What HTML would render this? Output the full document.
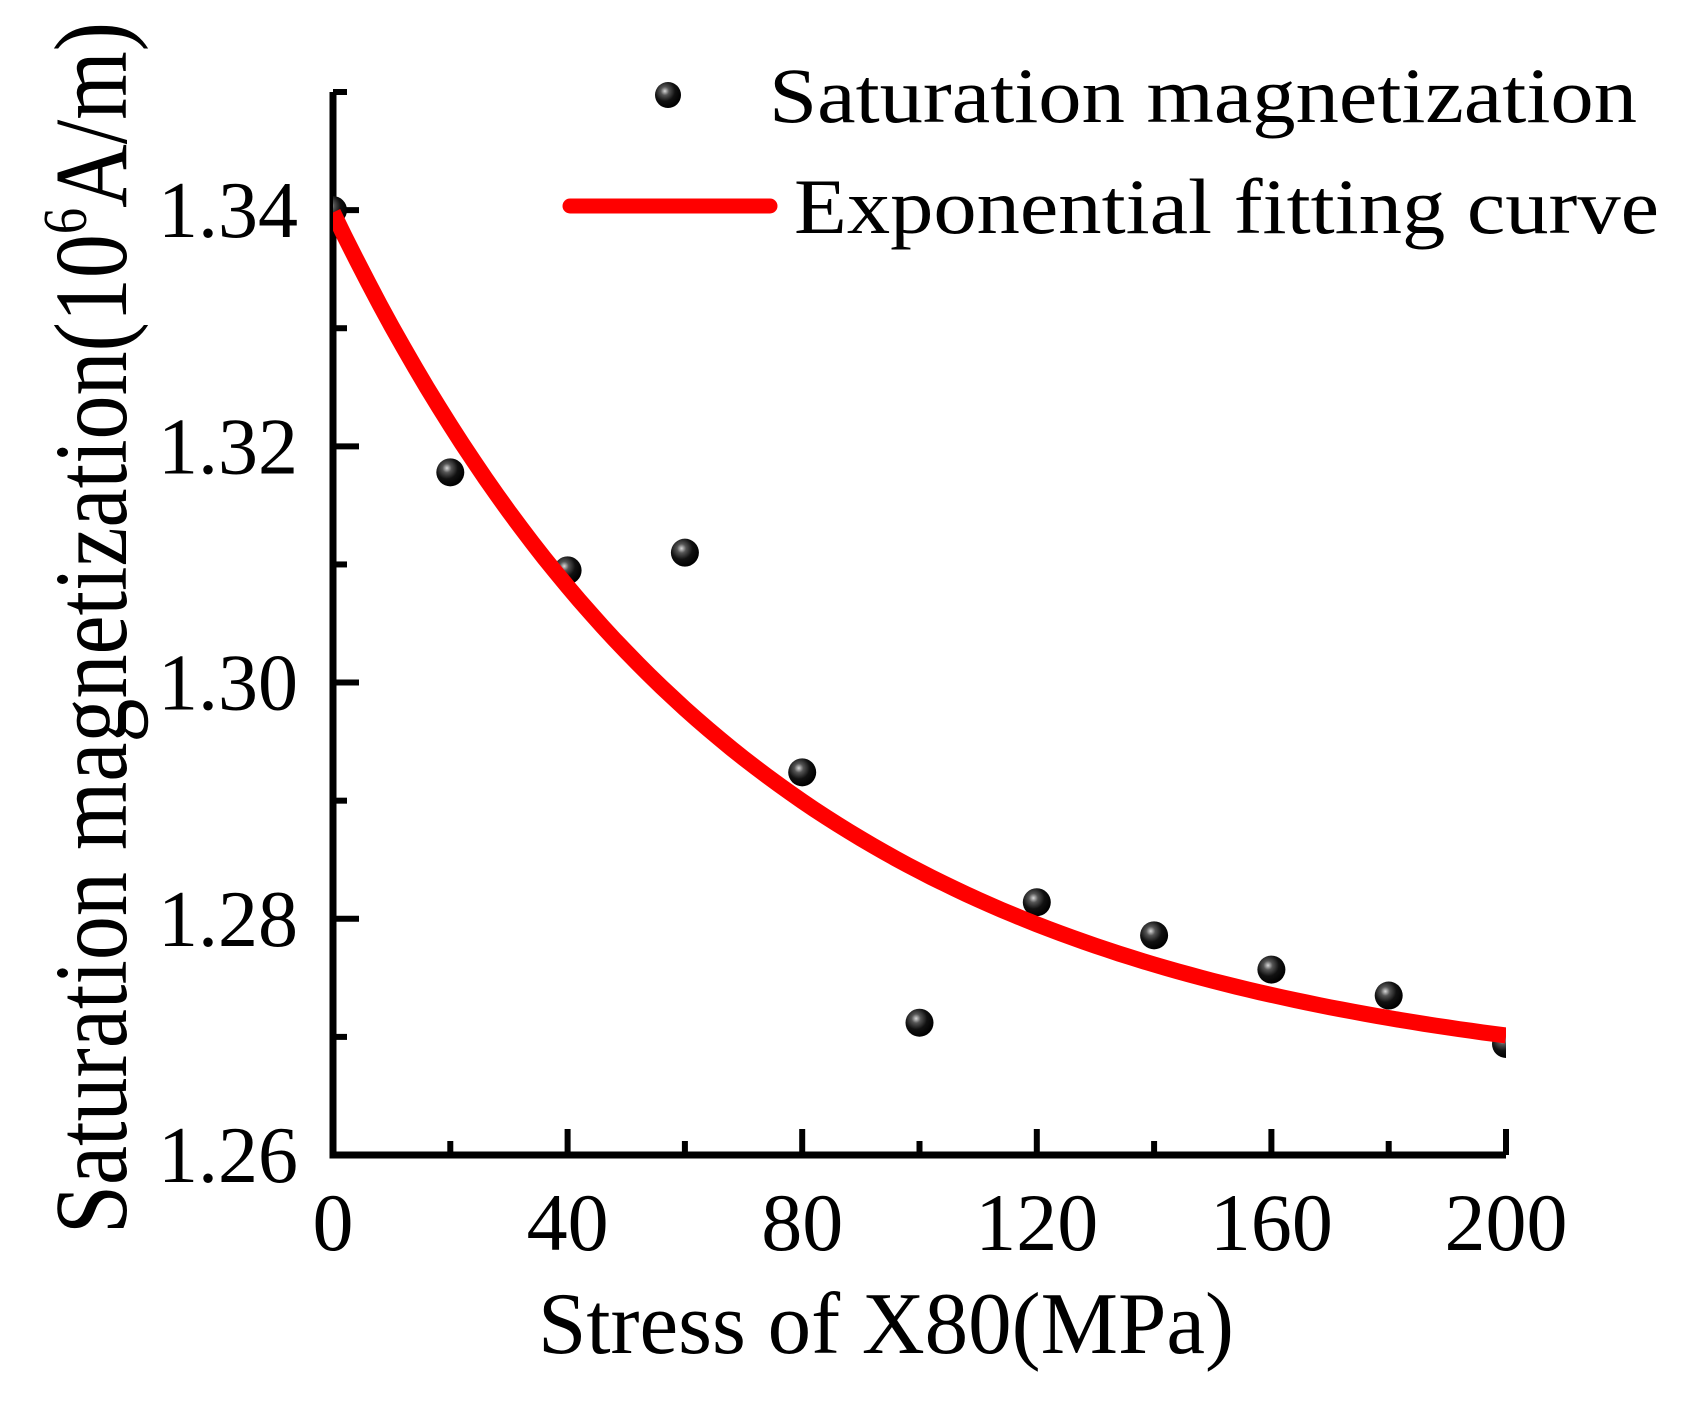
<!DOCTYPE html>
<html><head><meta charset="utf-8"><style>
html,body{margin:0;padding:0;background:#fff;}
svg{display:block;font-family:"Liberation Serif","Times New Roman",serif;}
</style></head><body>
<svg id="chart" width="1689" height="1413" viewBox="0 0 1689 1413">
<defs>
<radialGradient id="ball" cx="0.38" cy="0.35" r="0.65">
<stop offset="0" stop-color="#d8d8d8"/><stop offset="0.25" stop-color="#555"/><stop offset="0.6" stop-color="#111"/><stop offset="1" stop-color="#000"/>
</radialGradient>
<clipPath id="plotclip"><rect x="333" y="60" width="1173" height="1095"/></clipPath>
</defs>
<g id="axes"></g>
<g id="marks" clip-path="url(#plotclip)"></g>
<text x="1234" y="1353" font-size="88" textLength="696" lengthAdjust="spacingAndGlyphs" text-anchor="end">Stress of X80(MPa)</text>
<text transform="translate(126,1234) rotate(-90)" font-size="104" textLength="1212" lengthAdjust="spacingAndGlyphs">Saturation magnetization(10<tspan font-size="62" dy="-40">6</tspan><tspan dy="40">A/m)</tspan></text>
<g>
<circle cx="668" cy="95" r="13" fill="url(#ball)"/>
<text x="769" y="122" font-size="78" textLength="868" lengthAdjust="spacingAndGlyphs">Saturation magnetization</text>
<line x1="570" y1="206" x2="770" y2="206" stroke="#f00" stroke-width="15" stroke-linecap="round"/>
<text x="794" y="233" font-size="78" textLength="865" lengthAdjust="spacingAndGlyphs">Exponential fitting curve</text>
</g>
</svg>
<script>
const stress = [0,20,40,60,80,100,120,140,160,180,200];
const magnetization = [1.3400,1.3178,1.3095,1.3110,1.2924,1.2712,1.2814,1.2786,1.2757,1.2735,1.2694];
const fitParams = [1.2655,0.0743,72]; // y0, A, t
const xTickLabels = ["0","40","80","120","160","200"];
const yTickLabels = ["1.26","1.28","1.30","1.32","1.34"];
const NS="http://www.w3.org/2000/svg";
const X0=333,X1=1506,Y0=1155,Y1=92;
const xMin=0,xMax=200,yMin=1.26,yMax=1.35;
function sx(v){return X0+(v-xMin)/(xMax-xMin)*(X1-X0);}
function sy(v){return Y0-(v-yMin)/(yMax-yMin)*(Y0-Y1);}
function mk(tag,attrs,parent){const e=document.createElementNS(NS,tag);for(const k in attrs)e.setAttribute(k,attrs[k]);parent.appendChild(e);return e;}
const axes=document.getElementById('axes'),marks=document.getElementById('marks');
let a=mk('path',{d:`M${X0},${Y1} V${Y0} H${X1}`,fill:'none',stroke:'#000','stroke-width':7},axes);


for(let v=20;v<=200;v+=20){
  const major=(v%40===0);
  const t=mk('line',{x1:sx(v),x2:sx(v),y1:Y0,y2:Y0-(major?26:14),stroke:'#000','stroke-width':6},axes);
  
  
}
xTickLabels.forEach(s=>{
  const t=mk('text',{x:sx(parseFloat(s)),y:1250,'font-size':82,'text-anchor':'middle'},axes);
  t.textContent=s;
  
  
});
for(let i=1;i<=9;i++){
  const v=yMin+i*0.01;const major=(i%2===0);
  const t=mk('line',{x1:X0,x2:X0+(major?26:14),y1:sy(v),y2:sy(v),stroke:'#000','stroke-width':6},axes);
  
  
}
yTickLabels.forEach(s=>{
  const t=mk('text',{x:298,y:sy(parseFloat(s))+27,'font-size':80,'text-anchor':'end'},axes);
  t.textContent=s;
  
  
});
stress.forEach((x,i)=>{
  const p=mk('circle',{cx:sx(x),cy:sy(magnetization[i]),r:14,fill:'url(#ball)'},marks);
  
  
});
let d='';
for(let x=0;x<=200;x+=2){const y=fitParams[0]+fitParams[1]*Math.exp(-x/fitParams[2]);d+=(x?'L':'M')+sx(x).toFixed(1)+','+sy(y).toFixed(1);}
const c=mk('path',{d:d,fill:'none',stroke:'#f00','stroke-width':16},marks);


</script>
</body></html>
